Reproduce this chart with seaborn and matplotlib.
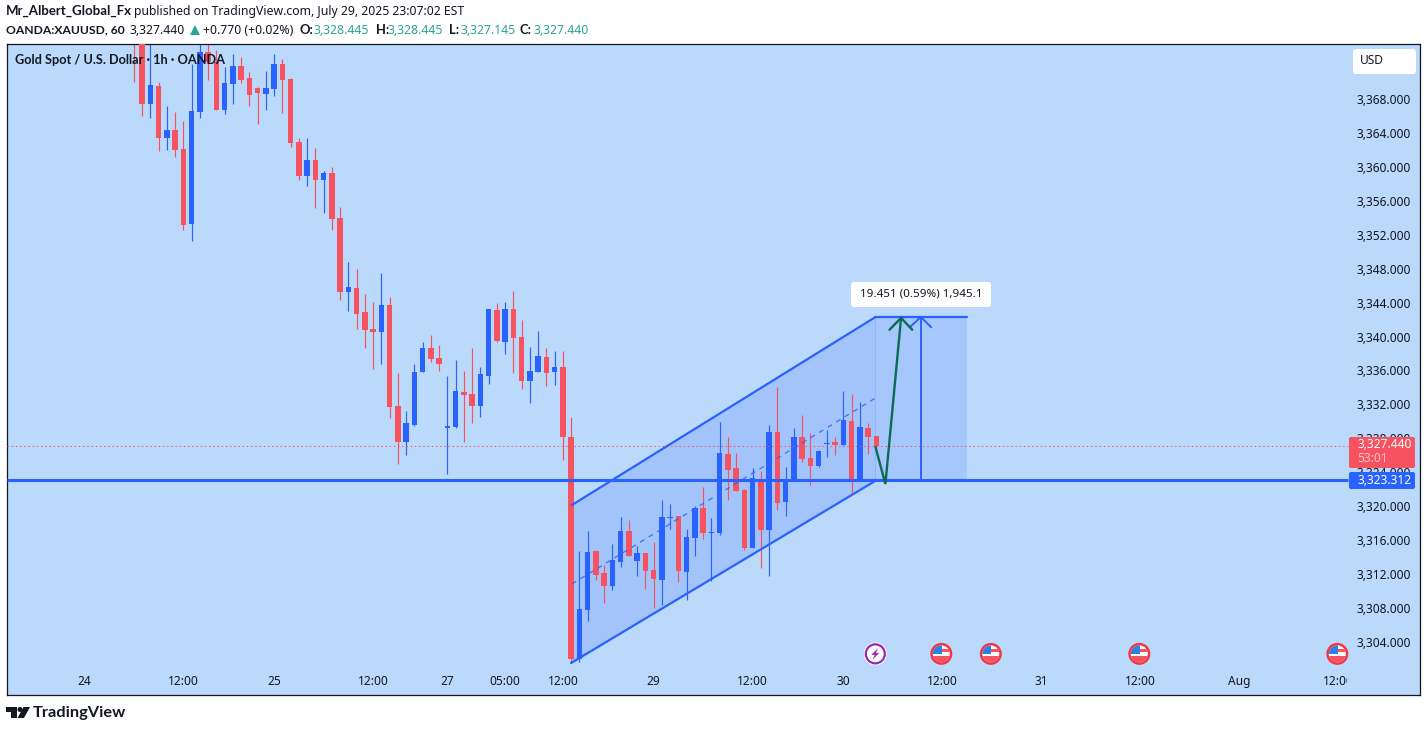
import numpy as np
import pandas as pd
import matplotlib
matplotlib.use("Agg")
import matplotlib.pyplot as plt
import seaborn as sns
from matplotlib.patches import Circle, FancyBboxPatch, Polygon, Rectangle
from matplotlib.transforms import IdentityTransform, Bbox

W, H = 1427, 732

# ---- candles (hourly, bar 0 is the first one in view) ----
open_ = [3376.5,3376.0,3367.41,3369.53,3363.40,3364.35,3362.11,3353.27,3366.47,3373.54,
         3372.36,3366.70,3369.77,3371.89,3370.48,3369.30,3368.59,3369.18,3372.13,3370.36,
         3362.93,3358.92,3360.81,3358.45,3359.28,3353.97,3345.25,3345.72,3342.90,3340.89,
         3340.54,3343.72,3331.81,3327.57,3329.58,3335.82,3338.65,3337.47,3329.22,3329.34,
         3333.46,3333.23,3331.81,3335.35,3343.13,3339.36,3343.25,3339.95,3334.76,3335.82,
         3337.59,3335.82,3336.41,3328.16,3301.99,3307.77,3314.72,3312.13,3310.60,3313.43,
         3317.08,3313.55,3314.49,3312.48,3311.30,3318.61,3318.85,3312.25,3316.26,3319.79,
         3316.85,3316.85,3326.16,3324.51,3321.91,3315.08,3323.21,3317.20,3328.75,3320.50,
         3323.09,3328.16,3325.69,3324.74,3327.34,3327.57,3327.22,3330.05,3323.09,3329.22,3328.28]
high = [3377.0,3376.5,3375.5,3370.00,3367.18,3366.47,3365.41,3372.13,3375.0,3374.6,
        3373.78,3371.77,3373.30,3372.95,3371.18,3369.42,3371.30,3373.30,3372.72,3370.48,
        3363.40,3363.40,3362.23,3359.51,3359.99,3355.27,3348.79,3347.96,3345.02,3344.07,
        3347.49,3344.66,3335.71,3331.23,3336.77,3339.36,3340.18,3339.01,3335.35,3337.24,
        3335.94,3338.65,3336.41,3343.25,3343.96,3344.07,3345.37,3341.95,3338.77,3340.65,
        3338.65,3338.30,3338.30,3330.52,3314.72,3317.08,3314.84,3313.07,3315.55,3318.73,
        3318.38,3315.31,3314.49,3315.79,3320.74,3320.26,3318.85,3317.32,3320.03,3322.27,
        3318.61,3329.93,3328.16,3326.28,3322.03,3324.51,3324.15,3329.58,3334.05,3324.63,
        3329.22,3330.75,3328.63,3326.63,3328.99,3328.16,3333.58,3333.23,3332.29,3329.81,3328.28]
low = [3370.00,3365.99,3365.76,3361.87,3361.99,3361.16,3352.56,3351.26,3365.76,3370.24,
       3366.70,3366.23,3367.41,3369.89,3367.18,3365.05,3366.70,3368.35,3366.35,3362.34,
       3358.45,3357.75,3355.15,3354.56,3352.56,3344.31,3343.01,3340.89,3338.65,3336.18,
       3336.77,3330.40,3324.98,3326.04,3329.46,3335.82,3337.00,3335.94,3323.80,3329.22,
       3327.57,3329.81,3330.52,3334.41,3339.36,3337.94,3335.71,3333.82,3332.17,3335.82,
       3334.17,3334.29,3325.45,3301.52,3301.64,3306.47,3311.30,3308.59,3310.13,3312.84,
       3314.14,3311.78,3310.25,3308.01,3308.36,3317.32,3311.07,3308.95,3314.14,3316.14,
       3311.19,3316.61,3320.74,3321.80,3314.84,3315.08,3312.72,3311.78,3319.56,3318.85,
       3322.97,3325.21,3322.50,3324.63,3325.80,3326.04,3327.22,3321.56,3323.09,3326.16,3326.86]
close = [3375.2,3367.41,3369.65,3363.40,3364.35,3361.99,3353.15,3366.59,3373.54,3372.36,
         3366.70,3369.89,3371.89,3370.24,3368.47,3368.71,3369.30,3372.13,3370.24,3362.81,
         3358.92,3360.81,3358.45,3359.28,3353.86,3345.25,3345.84,3342.66,3340.77,3340.54,
         3343.72,3331.70,3327.57,3329.81,3335.82,3338.65,3337.35,3336.77,3329.46,3333.58,
         3333.11,3331.81,3335.59,3343.25,3339.48,3343.25,3339.83,3334.76,3335.94,3337.71,
         3335.71,3336.41,3328.16,3301.99,3307.89,3314.61,3311.89,3310.60,3313.66,3317.08,
         3314.14,3314.49,3312.37,3311.42,3318.73,3318.73,3312.37,3316.38,3319.79,3316.85,
         3316.96,3326.28,3324.27,3321.80,3315.08,3323.33,3317.20,3328.75,3320.38,3323.09,
         3328.16,3325.57,3324.74,3326.51,3327.45,3327.22,3330.17,3322.97,3329.34,3328.16,3327.10]

# ---- axes ----
price_ticks = list(range(3304, 3369, 4))
price_labels = [f"{p:,}.000" for p in price_ticks]
time_ticks = [-6, 6, 17, 29, 38, 45, 52, 63, 75, 86, 98, 110, 122, 134, 146]
time_labels = ["24", "12:00", "25", "12:00", "27", "05:00", "12:00", "29", "12:00",
               "30", "12:00", "31", "12:00", "Aug", "12:00"]

# ---- drawings (bar index, price) ----
channel_upper_x, channel_upper_y = [53.1, 89.9], [3320.14, 3342.30]
channel_lower_x, channel_lower_y = [53.0, 89.9], [3301.52, 3323.00]
channel_mid_x, channel_mid_y = [53.1, 89.9], [3310.83, 3332.76]
box_x, box_top, box_bottom = [89.9, 101.0], 3342.30, 3323.01
measure_x = 95.4
support_level = 3323.05
last_level = 3327.15
path_x, path_y = [89.9, 91.1, 93.0], [3326.98, 3322.62, 3342.20]
event_bars = [90, 98, 104, 122, 146]
event_price = 3302.6

BG = "#BBD9FB"
BLUE = "#2962FF"
RED = "#F7525F"
GREEN = "#0B6B55"
TEAL = "#2BA595"
INK = "#131722"
BOLD = ["Lato", "Liberation Sans", "DejaVu Sans"]

sns.set_theme(style="white")
plt.rcParams["font.family"] = ["Noto Sans", "DejaVu Sans"]

fig = plt.figure(figsize=(W / 100, H / 100), dpi=100, facecolor="white")
ax = fig.add_axes([7 / W, 1 - 695 / H, (1420 - 7) / W, (695 - 44) / H], facecolor=BG)

df = pd.DataFrame({"bar": np.arange(len(open_)), "o": open_, "h": high, "l": low, "c": close})
df["bottom"] = df[["o", "c"]].min(axis=1)
df["size"] = (df["o"] - df["c"]).abs()
up = df[df["c"] >= df["o"]]
down = df[df["c"] < df["o"]]

# channel + target box fills under the candles
ax.fill_between(channel_upper_x, channel_lower_y, channel_upper_y, color=BLUE, alpha=0.17, lw=0, zorder=1)
ax.fill_between(box_x, box_bottom, box_top, color=BLUE, alpha=0.15, lw=0, zorder=1)

ax.vlines(up["bar"], up["l"], up["h"], color=BLUE, lw=0.85, zorder=2)
ax.vlines(down["bar"], down["l"], down["h"], color=RED, lw=0.85, zorder=2)
for part, col in ((up, BLUE), (down, RED)):
    sns.barplot(data=part, x="bar", y="size", bottom=part["bottom"].to_numpy(), native_scale=True,
                color=col, saturation=1, width=0.66, errorbar=None, linewidth=0, zorder=3, ax=ax)

# price lines
ax.plot([-15.4, 147.2], [last_level] * 2, color=RED, lw=0.72, ls=(0, (1.4, 2.8)), zorder=3.5)
ax.plot([-15.4, 147.2], [support_level] * 2, color=BLUE, lw=2.2, zorder=4, solid_capstyle="butt")

# channel lines
sns.lineplot(x=channel_upper_x, y=channel_upper_y, color=BLUE, lw=1.6, ax=ax, zorder=4)
sns.lineplot(x=channel_lower_x, y=channel_lower_y, color=BLUE, lw=1.6, ax=ax, zorder=4)
ax.plot(channel_mid_x, channel_mid_y, color=BLUE, lw=0.9, ls=(0, (4, 4)), alpha=0.85, zorder=4)

# target box
ax.plot(box_x, [box_top] * 2, color=BLUE, lw=1.6, zorder=4)
ax.plot([measure_x, measure_x], [box_bottom, box_top], color=BLUE, lw=1.4, zorder=4)
ax.plot([measure_x - 1.35, measure_x, measure_x + 1.25], [box_top - 1.2, box_top, box_top - 1.2],
        color=BLUE, lw=1.4, zorder=4)

# projected path
ax.plot(path_x, path_y, color=GREEN, lw=1.7, zorder=5, solid_joinstyle="miter")
ax.plot([path_x[2] - 1.4, path_x[2], path_x[2] + 1.35], [path_y[2] - 1.4, path_y[2], path_y[2] - 1.4],
        color=GREEN, lw=1.7, zorder=5)

ax.set_xlim(-15.37, 155.9)
ax.set_ylim(3297.75, 3374.48)
ax.set_xlabel("")
ax.set_ylabel("")
ax.yaxis.tick_right()
ax.set_yticks(price_ticks)
ax.set_yticklabels(price_labels, fontsize=8.6, color=INK)
ax.tick_params(axis="y", length=0, pad=-45.4, right=True)
ax.set_xticks(time_ticks)
ax.set_xticklabels(time_labels, fontsize=8.6, color=INK)
ax.tick_params(axis="x", length=0, pad=-14.3, bottom=True)
ax.grid(False)
for s in ax.spines.values():
    s.set_visible(True)
    s.set_color(INK)
    s.set_linewidth(0.9)
last_tick = ax.get_xticklabels()[-1]
last_tick.set_clip_on(True)
last_tick.set_clip_box(Bbox([[0, 0], [1347, H]]))

# ---- pixel-space furniture ----
ident = IdentityTransform()


def py(y):
    return H - y


def ptext(x, y, s, **kw):
    kw.setdefault("fontsize", 8.8)
    kw.setdefault("color", INK)
    kw.setdefault("va", "center")
    kw.setdefault("zorder", 20)
    return fig.text(x / W, 1 - y / H, s, **kw)


def rbox(x0, y0, x1, y1, fc, r=3, z=10, **kw):
    p = FancyBboxPatch((x0 + r, py(y1) + r), x1 - x0 - 2 * r, y1 - y0 - 2 * r,
                       boxstyle=f"round,pad={r},rounding_size={r}", fc=fc, ec="none",
                       transform=ident, zorder=z, clip_on=False, **kw)
    ax.add_artist(p)
    return p


# header
ptext(6, 11, "Mr_Albert_Global_Fx", fontweight="bold", family=BOLD, fontsize=9.5)
ptext(134, 11, "published on TradingView.com, July 29, 2025 23:07:02 EST")
ptext(6, 30, "OANDA:XAUUSD, 60", fontweight="bold", family=BOLD, fontsize=8.7)
ptext(130, 30, "3,327.440")
fig.add_artist(Polygon([[190, py(35)], [200, py(35)], [195, py(25)]], closed=True, fc=TEAL, ec="none",
                       transform=ident))
ptext(203, 30, "+0.770 (+0.02%)")
for lx, vx, lab, val in [(300, 314, "O:", "3,328.445"), (376, 388, "H:", "3,328.445"),
                         (449, 460, "L:", "3,327.145"), (520, 533, "C:", "3,327.440")]:
    ptext(lx, 30, lab, fontweight="bold", family=BOLD, fontsize=9.4)
    ptext(vx, 30, val, color=TEAL)

ptext(15, 60, "Gold Spot / U.S. Dollar · 1h · OANDA", fontweight="bold", family=BOLD, fontsize=9.2)

# USD button
rbox(1353, 49, 1416, 74, "white", r=3)
ptext(1372, 61, "USD", ha="center", fontsize=8.6)

# price tags
rbox(1349, 437, 1415, 468, RED, r=2)
ptext(1357, 445, "3,327.440", color="white", fontsize=8.6)
ptext(1357, 459, "53:01", color="#FFC9CD", fontsize=8.6)
rbox(1349, 472, 1415, 489, BLUE, r=2)
ptext(1357, 480.5, "3,323.312", color="white", fontsize=8.6)

# measure label
rbox(851, 282, 991, 307, "white", r=3)
ptext(921, 294, "19.451 (0.59%) 1,945.1", ha="center", fontsize=8.4)

# event badges, placed from their bar numbers
for k, bar in enumerate(event_bars):
    cx, cy = ax.transData.transform((bar, event_price))
    cx -= 1
    if k == 0:
        ax.add_artist(Circle((cx, cy), 11.5, fc="white", ec="none", transform=ident, zorder=9))
        ax.add_artist(Circle((cx, cy), 9.5, fc="white", ec="#9C27B0", lw=1.6, transform=ident, zorder=9.5))
        ax.add_artist(Polygon([[cx + 3, cy + 6], [cx - 4, cy - 1], [cx - 0.5, cy - 1], [cx - 3, cy - 6],
                               [cx + 4, cy + 1], [cx + 0.5, cy + 1]], closed=True, fc="#9C27B0", ec="none",
                              transform=ident, zorder=10))
    else:
        ax.add_artist(Circle((cx, cy), 11, fc="#F23645", ec="none", transform=ident, zorder=9))
        disc = Circle((cx, cy), 8.5, fc="white", ec="none", transform=ident, zorder=9.2)
        ax.add_artist(disc)
        for r in (Rectangle((cx - 9, cy - 9), 18, 6.5, fc="#F7525F", ec="none", transform=ident, zorder=9.4),
                  Rectangle((cx, cy + 1.5), 9, 3, fc="#F7525F", ec="none", transform=ident, zorder=9.4),
                  Rectangle((cx - 9, cy - 0.5), 9.5, 9.5, fc="#2F7FE0", ec="none", transform=ident, zorder=9.6)):
            ax.add_artist(r)
            r.set_clip_path(disc)

# logo
logo = "#131722"
fig.add_artist(Polygon([[6, py(707)], [17, py(707)], [17, py(718)], [10.5, py(718)], [10.5, py(712)], [6, py(712)]],
                       closed=True, fc=logo, ec="none", transform=ident))
fig.add_artist(Circle((20, py(709.5)), 2.5, fc=logo, ec="none", transform=ident))
fig.add_artist(Polygon([[23.5, py(707)], [30, py(707)], [24, py(718)], [17.5, py(718)]], closed=True,
                       fc=logo, ec="none", transform=ident))
ptext(33, 713, "TradingView", fontweight="bold", family=BOLD, fontsize=11.8)

fig.savefig("out.png", dpi=100, facecolor="white")
